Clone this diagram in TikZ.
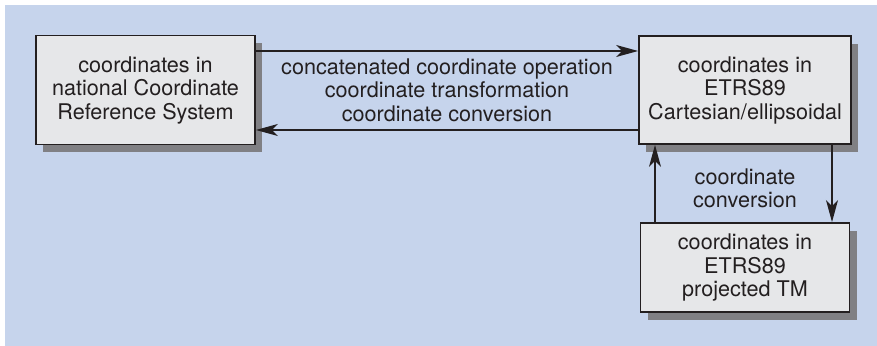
\documentclass[tikz,border=0pt]{standalone}
\usepackage{fontspec}
\setmainfont{TeX Gyre Heros}
\usepackage{tikz}
\usetikzlibrary{arrows.meta,positioning,shadows}
\definecolor{bgblue}{RGB}{198,212,236}
\definecolor{boxgray}{RGB}{230,231,233}
\definecolor{shadowgray}{RGB}{128,128,132}
\definecolor{inkgray}{RGB}{35,31,32}
\tikzset{
  crsbox/.style={draw=inkgray,line width=0.9pt,fill=boxgray,align=center,
    inner sep=0pt,text=inkgray,font=\fontsize{10.8}{11.75}\selectfont,
    general shadow={fill=shadowgray,shadow xshift=3.5pt,shadow yshift=-4pt}},
  lbl/.style={align=center,text=inkgray,font=\fontsize{10.8}{11.75}\selectfont},
  flow/.style={draw=inkgray,line width=0.7pt,
    -{Stealth[length=11pt,width=6pt,inset=3pt]}}
}

\begin{document}
\begin{tikzpicture}[x=0.5pt,y=-0.5pt,node distance=88.75pt,on grid]
  \useasboundingbox (0,0) rectangle (877,346);
  \fill[bgblue] (5,5) rectangle (877,346);
  \node[crsbox,minimum width=109.5pt,minimum height=54.5pt] (national) at (145.5,90)
    {coordinates in\\national Coordinate\\Reference System};
  \node[crsbox,minimum width=106pt,minimum height=54pt] (etrs) [right = 299.75pt of national]
    {coordinates in\\ETRS89\\Cartesian/ellipsoidal};
  \node[crsbox,minimum width=104.5pt,minimum height=44.5pt] (tm) [below = of etrs]
    {coordinates in\\ETRS89\\projected TM};
  \path (national.east) -- node[lbl] (ops)
    {concatenated coordinate operation\\coordinate transformation\\coordinate conversion} (etrs.west);
  \path (etrs.south) -- node[lbl,yshift=-2.5pt] (conv) {coordinate\\conversion} (tm.north);
  \draw[flow] ([yshift=19.5pt]national.east) -- ([yshift=19.5pt]etrs.west);
  \draw[flow] ([yshift=-20pt]etrs.west) -- ([yshift=-20pt]national.east);
  \draw[flow] ([xshift=-45pt]tm.north) -- ([xshift=-45pt]etrs.south);
  \draw[flow] ([xshift=43.5pt]etrs.south) -- ([xshift=43.5pt]tm.north);
\end{tikzpicture}
\end{document}
